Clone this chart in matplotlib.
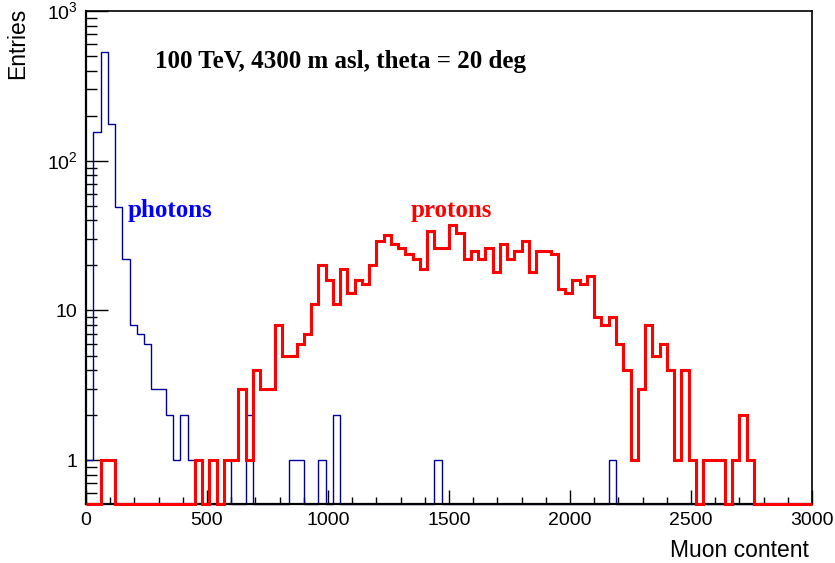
import numpy as np
import matplotlib
matplotlib.use("Agg")
import matplotlib.pyplot as plt
from matplotlib.ticker import FixedLocator, MultipleLocator, NullFormatter

plt.rcParams['font.family'] = ['Liberation Sans', 'DejaVu Sans']
plt.rcParams['mathtext.fontset'] = 'custom'
plt.rcParams['mathtext.rm'] = 'Liberation Sans'

# histogram: 100 bins of 30 over 0..3000 muons
n_bins = 100
x_lo, x_hi = 0, 3000

photons = [1, 156, 533, 176, 49, 22, 8, 7, 6, 3,
           3, 2, 1, 2, 1, 1, 0, 0, 0, 1,
           0, 0, 2, 0, 0, 0, 0, 0, 1, 1,
           0, 0, 1, 0, 2, 0, 0, 0, 0, 0,
           0, 0, 0, 0, 0, 0, 0, 0, 1, 0,
           0, 0, 0, 0, 0, 0, 0, 0, 0, 0,
           0, 0, 0, 0, 0, 0, 0, 0, 0, 0,
           0, 0, 1, 0, 0, 0, 0, 0, 0, 0,
           0, 0, 0, 0, 0, 0, 0, 0, 0, 0,
           0, 0, 0, 0, 0, 0, 0, 0, 0, 0]

protons = [0, 0, 1, 1, 0, 0, 0, 0, 0, 0,
           0, 0, 0, 0, 0, 1, 0, 1, 0, 1,
           1, 3, 1, 4, 3, 3, 8, 5, 5, 6,
           7, 11, 20, 16, 11, 19, 13, 16, 15, 20,
           29, 32, 28, 26, 24, 22, 19, 34, 26, 26,
           37, 33, 22, 25, 22, 26, 18, 28, 22, 25,
           29, 18, 25, 25, 24, 14, 13, 16, 15, 17,
           9, 8, 9, 6, 4, 1, 3, 8, 5, 6,
           4, 1, 4, 1, 0, 1, 1, 1, 0, 1,
           2, 1, 0, 0, 0, 0, 0, 0, 0, 0]

y_lo, y_hi = 0.51, 1000
y_ticks = [1, 10, 100, 1000]
y_ticklabels = ['1', '10', '$10^{2}$', '$10^{3}$']
title_text = "100 TeV, 4300 m asl, theta = 20 deg"

edges = np.linspace(x_lo, x_hi, n_bins + 1)

W, H = 835, 563
fig = plt.figure(figsize=(W / 100, H / 100), dpi=100)
ax = fig.add_axes([86 / W, 1 - 504 / H, (812 - 86) / W, (504 - 11) / H])

# ROOT draws empty bins on the frame bottom
ph = np.clip(np.array(photons, dtype=float), y_lo, None)
pr = np.clip(np.array(protons, dtype=float), y_lo, None)

ax.stairs(ph, edges, baseline=None, color='#000099', linewidth=1.0, zorder=2, clip_on=False)
ax.stairs(pr, edges, baseline=None, color='#ff0000', linewidth=2.2, zorder=3, clip_on=False)

ax.set_yscale('log')
ax.set_xlim(x_lo, x_hi)
ax.set_ylim(y_lo, y_hi)

ax.xaxis.set_major_locator(MultipleLocator(500))
ax.xaxis.set_minor_locator(MultipleLocator(100))
ax.yaxis.set_major_locator(FixedLocator(y_ticks))
ax.set_yticklabels(y_ticklabels)
minors = [m * 10.0 ** d for d in range(-1, 3) for m in range(2, 10)]
minors = [v for v in minors if y_lo < v < y_hi]
ax.yaxis.set_minor_locator(FixedLocator(minors))
ax.yaxis.set_minor_formatter(NullFormatter())

ax.tick_params(axis='both', which='both', direction='in', top=False, right=False,
               labelsize=14, width=1.0, color='black')
ax.tick_params(axis='x', which='major', length=10, pad=6)
ax.tick_params(axis='x', which='minor', length=5)
ax.tick_params(axis='y', which='major', length=15.5, pad=6)
ax.tick_params(axis='y', which='minor', length=7.7)

for side in ['top', 'right']:
    ax.spines[side].set_linewidth(1.2)
for side in ['left', 'bottom']:
    ax.spines[side].set_linewidth(1.6)

fig.text(18 / W, 1 - 8 / H, 'Entries', rotation=90, ha='center', va='top', fontsize=16.5)
fig.text(809 / W, 1 - 557 / H, 'Muon content', ha='right', va='baseline', fontsize=16.5)

serif = ['Liberation Serif', 'DejaVu Serif']
fig.text(155 / W, 1 - 68 / H, title_text, ha='left', va='baseline',
         fontsize=18, fontweight='bold', family=serif)
fig.text(128 / W, 1 - 217 / H, 'photons', ha='left', va='baseline',
         fontsize=18, fontweight='bold', family=serif, color='#0000ff')
fig.text(411 / W, 1 - 217 / H, 'protons', ha='left', va='baseline',
         fontsize=18, fontweight='bold', family=serif, color='#ff0000')

fig.savefig('out.png', dpi=100)
